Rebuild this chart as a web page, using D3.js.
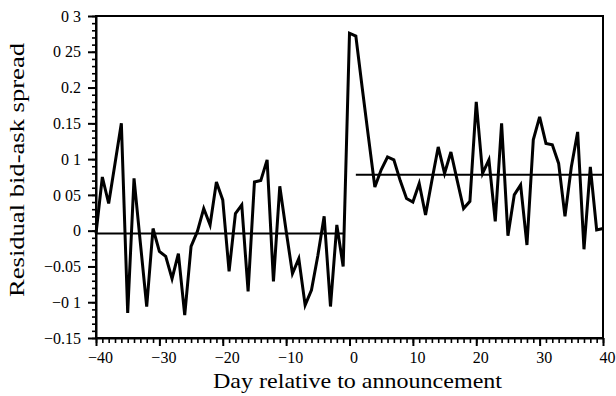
<!DOCTYPE html>
<html>
<head>
<meta charset="utf-8">
<script src="https://cdn.jsdelivr.net/npm/d3@7"></script>
<style>
html,body{margin:0;padding:0;background:#fff;}
svg{display:block;}
text{font-family:"Liberation Serif","Times New Roman",serif;fill:#000;}
</style>
</head>
<body>
<svg id="chart" width="616" height="396"></svg>
<script>
// ---- data ----
const days = d3.range(-40, 41);
const spread = [
  -0.004, 0.075, 0.038, 0.094, 0.150, -0.115, 0.073, -0.017, -0.106, 0.003,
  -0.029, -0.036, -0.067, -0.032, -0.118, -0.022, -0.001, 0.031, 0.008, 0.068,
  0.043, -0.057, 0.024, 0.036, -0.085, 0.068, 0.070, 0.099, -0.071, 0.062,
  0.000, -0.060, -0.039, -0.104, -0.083, -0.035, 0.020, -0.106, 0.008, -0.050,
  0.276, 0.272, 0.200, 0.130, 0.061, 0.085, 0.103, 0.099, 0.070, 0.045,
  0.040, 0.066, 0.022, 0.070, 0.117, 0.080, 0.110, 0.070, 0.031, 0.041,
  0.180, 0.080, 0.099, 0.013, 0.150, -0.007, 0.050, 0.064, -0.020, 0.127,
  0.159, 0.122, 0.120, 0.094, 0.020, 0.089, 0.138, -0.026, 0.089, 0.001,
  0.003
];
const meanPeriods = [[-40, -1], [1, 40]];
const meanValues = [-0.004, 0.078];
const xTickValues = [-40, -30, -20, -10, 0, 10, 20, 30, 40];
const xTickLabels = ["\u221240", "\u221230", "\u221220", "\u221210", "0", "10", "20", "30", "40"];
const yTickValues = [0.3, 0.25, 0.2, 0.15, 0.1, 0.05, 0, -0.05, -0.1, -0.15];
const yTickLabels = ["0 3", "0 25", "0.2", "0.15", "0 1", "0 05", "0", "\u22120.05", "\u22120 1", "\u22120.15"];
const xTitle = "Day relative to announcement";
const yTitle = "Residual bid-ask spread";

// ---- layout ----
const L = 96, R = 603, T = 16, B = 338;
const svg = d3.select("#chart");
const x = d3.scaleLinear().domain([-40, 40]).range([L, R]);
const y = d3.scaleLinear().domain([-0.15, 0.3]).range([B, T]);

// frame
svg.append("rect").attr("x", L).attr("y", T).attr("width", R - L).attr("height", B - T)
  .attr("fill", "none").attr("stroke", "#000").attr("stroke-width", 2);

// minor ticks
const gxm = svg.append("g").attr("transform", `translate(0,${B})`)
  .call(d3.axisBottom(x).tickValues(d3.range(-40, 41)).tickSize(5).tickFormat("").tickSizeOuter(0));
gxm.select(".domain").remove();
gxm.selectAll("line").attr("stroke-width", 1.6);
const gym = svg.append("g").attr("transform", `translate(${L},0)`)
  .call(d3.axisLeft(y).tickValues(y.ticks(45)).tickSize(4).tickFormat("").tickSizeOuter(0));
gym.select(".domain").remove();
gym.selectAll("line").attr("stroke-width", 1.6);

// major axes
const gx = svg.append("g").attr("transform", `translate(0,${B})`)
  .call(d3.axisBottom(x).tickValues(xTickValues).tickSize(8).tickPadding(6).tickSizeOuter(0)
    .tickFormat((d, i) => xTickLabels[i]));
gx.select(".domain").attr("stroke-width", 2);
gx.selectAll("line").attr("stroke-width", 2);
gx.selectAll("text").attr("font-size", 16).attr("font-family", "Liberation Serif").attr("dx", 4);

const gy = svg.append("g").attr("transform", `translate(${L},0)`)
  .call(d3.axisLeft(y).tickValues(yTickValues).tickSize(8).tickPadding(7).tickSizeOuter(0)
    .tickFormat((d, i) => yTickLabels[i]));
gy.select(".domain").attr("stroke-width", 2);
gy.selectAll("line").attr("stroke-width", 2);
gy.selectAll("text").attr("font-size", 16).attr("font-family", "Liberation Serif");

// mean lines
svg.selectAll(".mean").data(meanPeriods).enter().append("line")
  .attr("x1", d => x(d[0])).attr("x2", d => x(d[1]))
  .attr("y1", (d, i) => y(meanValues[i])).attr("y2", (d, i) => y(meanValues[i]))
  .attr("stroke", "#000").attr("stroke-width", 2);

// data line
const line = d3.line().x((d, i) => x(days[i])).y(d => y(d));
svg.append("path").datum(spread).attr("d", line)
  .attr("fill", "none").attr("stroke", "#000").attr("stroke-width", 3).attr("stroke-linejoin", "miter");

// titles
svg.append("text").attr("x", 213).attr("y", 388).attr("font-size", 21)
  .attr("textLength", 289).attr("lengthAdjust", "spacingAndGlyphs").text(xTitle);
svg.append("text").attr("transform", "translate(24,297) rotate(-90)").attr("font-size", 22)
  .attr("textLength", 254).attr("lengthAdjust", "spacingAndGlyphs").text(yTitle);
</script>
</body>
</html>
